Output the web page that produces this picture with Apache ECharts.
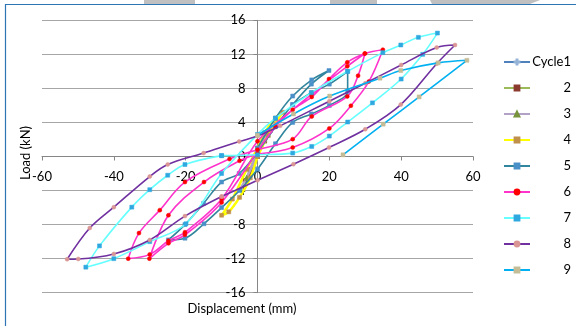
<!DOCTYPE html>
<html><head><meta charset="utf-8">
<script src="https://cdn.jsdelivr.net/npm/echarts@6/dist/echarts.min.js"></script>
<style>html,body{margin:0;padding:0;background:#fff}#c{width:576px;height:326px}</style>
</head><body><div id="c"></div>
<script>
var seriesNames = ['Cycle1','2','3','4','5','6','7','8','9'];
var xTicks = [-60,-40,-20,0,20,40,60];
var yTicks = [-16,-12,-8,-4,0,4,8,12,16];

var cycle1 = [[0,0],[1,1.2],[2,2.0],[1,1.5],[0,0.5],[-1,-0.8],[-2,-1.8],[-1,-1.2],[0,0]];
var cycle2 = [[0,0],[2,1.8],[3.5,3.0],[2,2.2],[0,0.6],[-2,-1.5],[-3.5,-2.8],[-2,-2.0],[0,0]];
var cycle3 = [[0,0.3],[3,2.5],[5,4.0],[3,2.8],[0,0.8],[-3,-2.4],[-5,-3.8],[-3,-2.6],[0,0.3]];
var cycle4 = [[0,0],[3,2.5],[7,5.2],[5,4.5],[2,2.8],[0,1],[-3,-1.5],[-7,-5],[-10,-6.9],[-8,-6.5],[-5,-4.8],[-2,-2.5],[0,0]];
var cycle5 = [[0,1],[5,4.5],[9.8,7.1],[15.1,9.0],[19.9,10.1],[15,8.5],[9.8,6.1],[5,3.5],[0,0.5],[-5.1,-2.0],[-10,-3.0],[-15,-5.5],[-20.2,-8],[-24.8,-9.8],[-20.2,-9.6],[-14.9,-7.9],[-10,-6],[-5,-4],[0,-1.5],[5,1.5],[9.8,4.0],[15,5],[20,6],[25.1,7.65],[25.1,10.0],[20,8.5],[15,7.5],[9.8,6.1]];
var cycle6 = [[0,0.3],[9.8,1.06],[20,3.3],[26,5.96],[31,8.8],[34.9,12.55],[29.9,12.1],[25,11.06],[19.9,9.1],[15.1,7.0],[9.8,5.5],[0,1.8],[-10,-5.0],[-20.2,-8.9],[-24.8,-9.9],[-30,-11.5],[-36,-12],[-33,-9],[-27.2,-6.3],[-20.2,-3.0],[-7.8,-0.3],[0,0.8],[9.8,2.04],[15.1,4.7],[25,7.06],[28,9.5],[29.9,12.1],[25,10.6],[15,7.3],[5,3.5],[-10,-5.4],[-20.2,-9.2],[-24.8,-10.2],[-30.1,-12],[-24.8,-6.9],[-14.9,-3.0],[-5,-0.5],[0,0.3]];
var cycle7 = [[-10,0.1],[0,0.2],[9.8,0.4],[15.1,1.18],[20,2.4],[25.1,4.05],[32,6.3],[40,9.1],[46,12],[50.1,14.5],[44.8,14.0],[39.9,13.1],[34.9,12.2],[25.1,10.0],[15,7.5],[5,4.5],[0,2.6],[-10,-2],[-19.9,-7.9],[-30,-10],[-40,-12],[-47.8,-13],[-44,-10.5],[-35,-5.95],[-30,-3.9],[-25,-2.2],[-20.2,-0.94],[-10,0.1]];
var cycle8 = [[-10,-4.7],[0,-2.8],[10,-0.9],[19.9,1.06],[30,3.2],[39.9,6.1],[49.9,10.9],[55,13.1],[49.9,12.8],[40,10.75],[30,8.6],[20,6.5],[6.3,3.6],[0,2.4],[-5.1,1.76],[-15,0.4],[-25,-0.94],[-30,-2.35],[-40,-5.95],[-46.7,-8.4],[-53,-12.07],[-49.9,-12.04],[-40,-11.45],[-30,-9.8],[-20.2,-7.0],[-10,-4.7]];
var cycle9 = [[23.8,0.2],[35,3.8],[45,7.0],[58.3,11.3],[50.3,11.0],[39.9,10.1],[34.1,9.2],[20.1,7.1],[10,5.0],[0,2.5]];

var colorsLine = ['#4F81BD','#9BBB59','#B3A2C7','#FFFF00','#31859C','#FF33CC','#66FFFF','#7030A0','#00B0F0'];
var colorsMark = ['#95B3D7','#8B3A2E','#77933C','#C0904D','#4A90C8','#FF0000','#2FA8E0','#D99694','#C4BD97'];
var symbols = ['path://M4,0H6V4H10V6H6V10H4V6H0V4H4Z','rect','triangle','rect','rect','circle','rect','circle','rect'];
var datas = [cycle1,cycle2,cycle3,cycle4,cycle5,cycle6,cycle7,cycle8,cycle9];

var series = [];
for (var i=0;i<9;i++){
  series.push({
    name: seriesNames[i], type:'line', data: datas[i], smooth:0.35,
    symbol: symbols[i], symbolSize: i===0?5:4, showSymbol:true,
    lineStyle:{color:colorsLine[i], width: i===3?2.5:1.6},
    itemStyle:{color:colorsMark[i], borderColor: colorsMark[i], borderWidth:0.5},
    emphasis:{disabled:true}, animation:false, z: 2+i
  });
}

var font = 'Lato, "Liberation Sans", sans-serif';
var gridL = 42, gridR = 103, gridT = 20.3, gridB = 33.3, W = 576, H = 326;
var gridW = W - gridL - gridR, gridH = H - gridT - gridB;
var chart = echarts.init(document.getElementById('c'), null, {renderer:'canvas'});
chart.setOption({
  backgroundColor:'#fff',
  animation:false,
  graphic:[
    {type:'rect', shape:{x:144,y:0,width:51,height:4}, style:{fill:'#c0c0c0'}, z:100},
    {type:'rect', shape:{x:330,y:0,width:47,height:4}, style:{fill:'#c0c0c0'}, z:100},
    {type:'polygon', shape:{points:[[430,0],[540,0],[530,4],[432,4]]}, style:{fill:'#c0c0c0'}, z:100},
    {type:'rect', shape:{x:5.5,y:4.5,width:600,height:400}, style:{fill:null, stroke:'#2E75B6', lineWidth:1.2}, z:100},
    {type:'text', x:242, y:309, style:{text:'Displacement (mm)', x:0, y:0, textAlign:'center', textVerticalAlign:'middle', font:'13px Lato, sans-serif', fill:'#000'}},
    {type:'text', x:26, y:153, rotation:Math.PI/2, style:{text:'Load (kN)', x:0, y:0, textAlign:'center', textVerticalAlign:'middle', font:'13px Lato, sans-serif', fill:'#000'}}
  ],
  grid:{left:gridL, right:gridR, top:gridT, bottom:gridB, containLabel:false, outerBoundsMode:'none'},
  legend:{
    orient:'vertical', left:503, top:55, padding:0, itemWidth:26, itemHeight:6, itemGap:12,
    data: seriesNames,
    formatter: function(n){ return '{a|' + n + '}'; },
    textStyle:{fontFamily:font, fontSize:13, color:'#000', lineHeight:14,
      rich:{a:{width:36, align:'right', fontFamily:font, fontSize:13, lineHeight:14}}}
  },
  xAxis:{
    type:'value', min:-60, max:60, interval:20, position:'bottom', offset:-gridH/2,
    axisLine:{onZero:false, lineStyle:{color:'#868686'}},
    axisTick:{show:true, length:4, lineStyle:{color:'#868686'}},
    axisLabel:{fontFamily:font, fontSize:13, color:'#000', margin:14},
    splitLine:{show:false}
  },
  yAxis:{
    type:'value', min:-16, max:16, interval:4, position:'left', offset:-gridW/2,
    axisLine:{show:true, onZero:false, lineStyle:{color:'#868686'}},
    axisTick:{show:true, length:4, lineStyle:{color:'#868686'}},
    axisLabel:{fontFamily:font, fontSize:13, color:'#000', margin:12},
    splitLine:{show:true, lineStyle:{color:'#a6a6a6', width:1}}
  },
  series: series
});
</script></body></html>
